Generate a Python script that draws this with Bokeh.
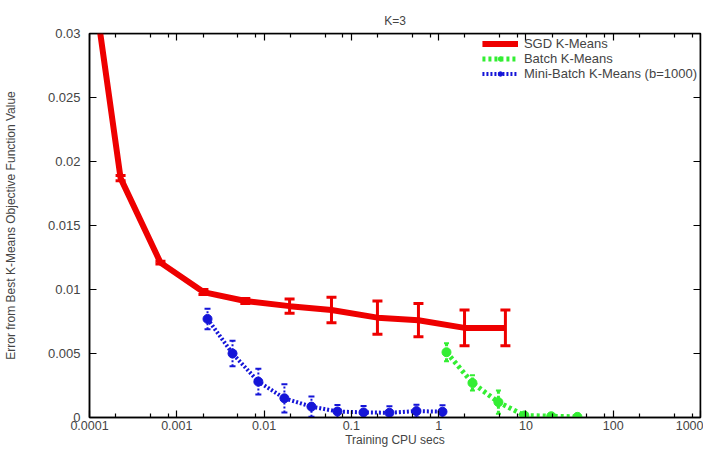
from bokeh.plotting import figure
from bokeh.models import (LinearAxis, LogAxis, FixedTicker, Whisker, TeeHead,
                          ColumnDataSource, Legend, LegendItem, Range1d)
from bokeh.embed import file_html
from bokeh.resources import INLINE

# ---- data ----
sgd_x = [1.1e-4, 2.27e-4, 6.5e-4, 2.02e-3, 6.1e-3, 0.0196, 0.0592, 0.199, 0.587, 1.98, 5.82]
sgd_y = [0.034, 0.0187, 0.0121, 0.0098, 0.0091, 0.0087, 0.0084, 0.0078, 0.0076, 0.0070, 0.0070]
sgd_err = [0.0, 0.0002, 0.0001, 0.0002, 0.0002, 0.00055, 0.001, 0.0013, 0.0013, 0.0014, 0.0014]

batch_x = [1.23, 2.44, 4.84, 9.6, 19.5, 38.9]
batch_y = [0.0051, 0.0027, 0.0012, 0.00016, 0.0001, 0.00005]
batch_err = [0.0007, 0.0006, 0.0009, 0.0001, 0.00005, 0.00005]

mb_x = [2.25e-3, 4.35e-3, 8.6e-3, 0.0171, 0.0349, 0.0693, 0.138, 0.273, 0.557, 1.107]
mb_y = [0.0077, 0.0050, 0.0028, 0.0015, 0.00085, 0.00047, 0.0004, 0.00037, 0.0005, 0.00045]
mb_err = [0.0008, 0.001, 0.001, 0.0011, 0.0008, 0.0005, 0.0005, 0.0005, 0.0005, 0.0005]

series_names = ["SGD K-Means", "Batch K-Means", "Mini-Batch K-Means (b=1000)"]

x_ticks = [1e-4, 1e-3, 1e-2, 1e-1, 1, 10, 100, 1000]
x_labels = ["0.0001", "0.001", "0.01", "0.1", "1", "10", "100", "1000"]
x_minor_mantissas = [2, 5, 8]
y_ticks = [0, 0.005, 0.01, 0.015, 0.02, 0.025, 0.03]
y_labels = ["0", "0.005", "0.01", "0.015", "0.02", "0.025", "0.03"]
x_title = "Training CPU secs"
y_title = "Error from Best K-Means Objective Function Value"
x_lim = [1e-4, 1e3]
y_lim = [0, 0.03]

FONT = "Liberation Sans"
RED = "#ee0000"
GREEN = "#33ee33"
BLUE = "#1515d8"

p = figure(width=703, height=449, x_axis_type="log",
           x_range=Range1d(*x_lim), y_range=Range1d(*y_lim),
           output_backend="svg", toolbar_location=None,
           min_border_left=89, min_border_right=3, min_border_top=33, min_border_bottom=31,
           title="K=3")
p.title.align = "center"
p.title.text_font = FONT
p.title.text_font_style = "normal"
p.title.text_font_size = "12px"
p.title.standoff = 11
p.xgrid.visible = False
p.ygrid.visible = False
p.outline_line_color = "black"
p.outline_line_width = 1.5
p.background_fill_color = "white"
p.border_fill_color = "white"

minor = [m * t for t in x_ticks[:-1] for m in x_minor_mantissas]
xt = FixedTicker(ticks=x_ticks, minor_ticks=minor)
yt = FixedTicker(ticks=y_ticks)


def style_axis(ax, show_labels=True):
    ax.major_tick_in = 7
    ax.major_tick_out = 0
    ax.minor_tick_in = 4
    ax.minor_tick_out = 0
    ax.axis_line_color = "black"
    ax.axis_line_width = 1.5
    ax.major_tick_line_width = 1.2
    ax.minor_tick_line_width = 1.2
    ax.major_label_text_font = FONT
    ax.axis_label_text_font = FONT
    ax.axis_label_text_font_style = "normal"
    if not show_labels:
        ax.major_label_overrides = {t: "" for t in ax.ticker.ticks}
        ax.major_label_text_font_size = "1px"
        ax.major_label_text_color = None
        ax.major_label_standoff = 0


xa = p.xaxis[0]
xa.ticker = xt
xa.major_label_overrides = {t: s for t, s in zip(x_ticks, x_labels)}
style_axis(xa)
xa.major_label_text_font_size = "12.5px"
xa.major_label_standoff = 3
xa.axis_label = x_title
xa.axis_label_text_font_size = "12px"
xa.axis_label_standoff = 0

ya = p.yaxis[0]
ya.ticker = yt
ya.major_label_overrides = {t: s for t, s in zip(y_ticks, y_labels)}
style_axis(ya)
ya.major_label_text_font_size = "13px"
ya.major_label_standoff = 9
ya.axis_label = y_title
ya.axis_label_text_font_size = "12px"
ya.axis_label_standoff = 27

# mirrored tick marks on the top and right edges (drawn at the range ends)
top = LogAxis(ticker=FixedTicker(ticks=x_ticks, minor_ticks=minor))
style_axis(top, show_labels=False)
top.fixed_location = y_lim[1]
p.add_layout(top, "above")
right = LinearAxis(ticker=FixedTicker(ticks=y_ticks))
style_axis(right, show_labels=False)
right.fixed_location = x_lim[1]
p.add_layout(right, "right")

# ---- SGD ----
src_sgd = ColumnDataSource(dict(x=sgd_x, y=sgd_y,
                                lo=[a - b for a, b in zip(sgd_y, sgd_err)],
                                hi=[a + b for a, b in zip(sgd_y, sgd_err)]))
r_sgd = p.line("x", "y", source=src_sgd, color=RED, line_width=6)
p.add_layout(Whisker(source=src_sgd, base="x", lower="lo", upper="hi", dimension="height",
                     line_color=RED, line_width=3,
                     lower_head=TeeHead(size=10, line_color=RED, line_width=3),
                     upper_head=TeeHead(size=10, line_color=RED, line_width=3)))

# ---- Batch ----
src_b = ColumnDataSource(dict(x=batch_x, y=batch_y,
                              lo=[a - b for a, b in zip(batch_y, batch_err)],
                              hi=[a + b for a, b in zip(batch_y, batch_err)]))
r_b = p.line("x", "y", source=src_b, color=GREEN, line_width=5, line_dash="3 3")
r_bs = p.scatter("x", "y", source=src_b, size=9, color=GREEN)
p.add_layout(Whisker(source=src_b, base="x", lower="lo", upper="hi", dimension="height",
                     line_color=GREEN, line_width=3, line_dash="3 2",
                     lower_head=TeeHead(size=5, line_color=GREEN, line_width=2),
                     upper_head=TeeHead(size=5, line_color=GREEN, line_width=2)))

# ---- Mini-batch ----
src_m = ColumnDataSource(dict(x=mb_x, y=mb_y,
                              lo=[a - b for a, b in zip(mb_y, mb_err)],
                              hi=[a + b for a, b in zip(mb_y, mb_err)]))
r_m = p.line("x", "y", source=src_m, color=BLUE, line_width=4, line_dash="2 2")
r_ms = p.scatter("x", "y", source=src_m, size=9, color=BLUE)
p.add_layout(Whisker(source=src_m, base="x", lower="lo", upper="hi", dimension="height",
                     line_color=BLUE, line_width=2, line_dash="2 2",
                     lower_head=TeeHead(size=6, line_color=BLUE, line_width=2),
                     upper_head=TeeHead(size=6, line_color=BLUE, line_width=2)))

legend = Legend(items=[LegendItem(label=series_names[0], renderers=[r_sgd]),
                       LegendItem(label=series_names[1], renderers=[r_b, r_bs]),
                       LegendItem(label=series_names[2], renderers=[r_m, r_ms])],
                location="top_right", background_fill_alpha=0, border_line_alpha=0,
                label_text_font=FONT, label_text_font_size="13px",
                label_height=11, glyph_height=11, glyph_width=36, spacing=-2,
                padding=1, margin=2, label_standoff=6)
p.add_layout(legend)

open("out.html", "w").write(file_html(p, INLINE))
